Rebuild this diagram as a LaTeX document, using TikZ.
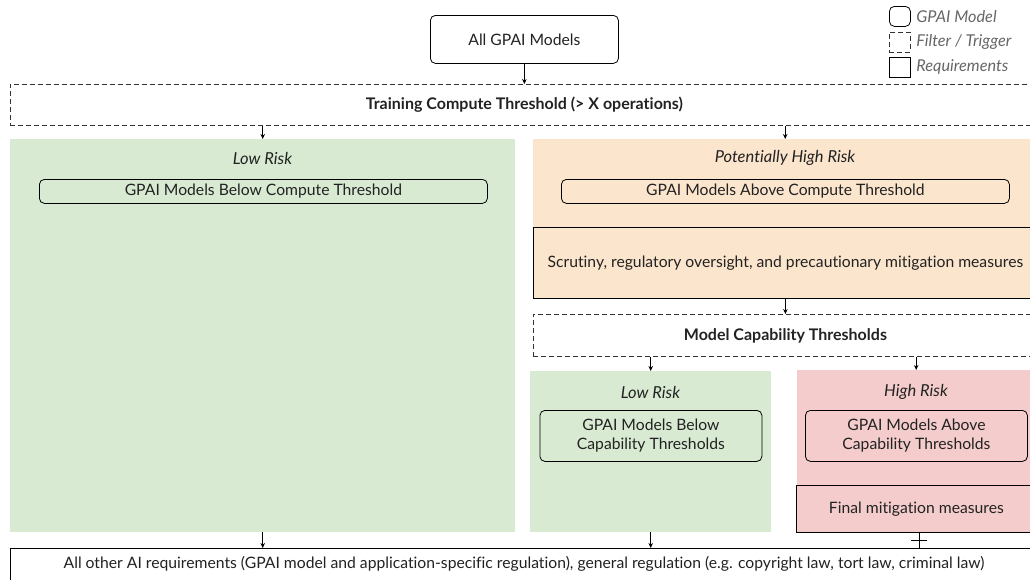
\documentclass[tikz,border=0pt]{standalone}
\usepackage{fontspec}
\setmainfont{Lato}[Ligatures={NoCommon}]
\usetikzlibrary{arrows.meta,calc}
\definecolor{lgreen}{HTML}{D9EAD3}
\definecolor{lorange}{HTML}{FCE5CD}
\definecolor{lred}{HTML}{F4CCCC}
\definecolor{txt}{HTML}{222222}
\definecolor{legtxt}{HTML}{666666}
\begin{document}
\begin{tikzpicture}[x=1pt,y=-1pt,
  font=\fontsize{15.7}{19}\selectfont, text=txt,
  region/.style={draw=none, inner sep=0pt, anchor=north west},
  modelbox/.style={draw=black, line width=0.8pt, rounded corners=5pt, inner sep=0pt, anchor=north west, align=center},
  reqbox/.style={draw=black, line width=0.8pt, inner sep=0pt, anchor=north west, align=center},
  filterbox/.style={draw=black!80, line width=0.8pt, dash pattern=on 5pt off 3pt, inner sep=0pt, anchor=north west, font=\fontsize{16}{19}\selectfont\bfseries},
  risklabel/.style={font=\fontsize{16.5}{19}\selectfont\itshape},
  legtext/.style={anchor=west, text=legtxt, font=\fontsize{16.3}{19}\selectfont\itshape},
  arr/.style={-{Stealth[length=5pt,width=4.5pt]}, line width=0.8pt}
]
\useasboundingbox (0,0) rectangle (1030,579);

% legend
\node[modelbox, minimum width=21pt, minimum height=20pt] (lg1) at (889,6) {};
\node[filterbox, minimum width=21pt, minimum height=20pt] (lg2) at (889,32) {};
\node[reqbox, minimum width=21pt, minimum height=20pt] (lg3) at (889,57) {};
\node[legtext] (lt1) at ([xshift=2pt]lg1.east) {GPAI Model};
\node[legtext] (lt2) at ([xshift=2pt]lg2.east) {Filter / Trigger};
\node[legtext] (lt3) at ([xshift=2pt]lg3.east) {Requirements};

% top
\node[modelbox, minimum width=188pt, minimum height=48pt] (all) at (430,15) {All GPAI Models};
\node[filterbox, minimum width=1028pt, minimum height=41pt] (train) at (10,84) {Training Compute Threshold (> X operations)};

% left green region
\node[region, fill=lgreen, minimum width=505pt, minimum height=393pt] (lowbg) at (10,139) {};
\node[risklabel] (lowlab) at (262.5,158) {Low Risk};
\node[modelbox, minimum width=448pt, minimum height=24pt] (below) at (39,179) {GPAI Models Below Compute Threshold};

% orange region
\node[region, fill=lorange, minimum width=504pt, minimum height=159pt] (orbg) at (533,139) {};
\node[risklabel] (phlab) at (785,158) {Potentially High Risk};
\node[modelbox, minimum width=448pt, minimum height=24pt] (above) at (561,179) {GPAI Models Above Compute Threshold};
\node[reqbox, fill=lorange, minimum width=504pt, minimum height=71pt] (scrut) at (533,227) {Scrutiny, regulatory oversight, and precautionary mitigation measures};

% capability filter
\node[filterbox, minimum width=504pt, minimum height=42pt] (mct) at (533,314) {Model Capability Thresholds};

% low risk (capability)
\node[region, fill=lgreen, minimum width=241pt, minimum height=161pt] (lowbg2) at (530,371) {};
\node[risklabel] (lowlab2) at (650.5,392) {Low Risk};
\node[modelbox, minimum width=222pt, minimum height=51pt] (belowcap) at (539.5,410) {GPAI Models Below\\Capability Thresholds};

% high risk
\node[region, fill=lred, minimum width=238pt, minimum height=162pt] (redbg) at (797,370) {};
\node[risklabel] (hilab) at (916,392) {High Risk};
\node[modelbox, minimum width=222pt, minimum height=51pt] (abovecap) at (805,410) {GPAI Models Above\\Capability Thresholds};
\node[reqbox, fill=lred, minimum width=240pt, minimum height=47pt] (final) at (796,485) {Final mitigation measures};

% bottom
\node[reqbox, minimum width=1028pt, minimum height=45pt] (bottom) at (10,548) {};
\node (bottomtext) at (524,564) {All other AI requirements (GPAI model and application-specific regulation), general regulation (e.g. copyright law, tort law, criminal law)};

% connectors
\draw[arr] (all.south) -- (train.north);
\draw[arr] (train.south -| lowbg.north) -- (lowbg.north);
\draw[arr] (train.south -| orbg.north) -- (orbg.north);
\draw[arr] (scrut.south) -- (mct.north);
\draw[arr] (mct.south -| lowbg2.north) -- (lowbg2.north);
\draw[arr] (mct.south -| redbg.north) -- (redbg.north);
\draw[arr] (lowbg.south) -- (lowbg.south |- bottom.north);
\draw[arr] (lowbg2.south) -- (lowbg2.south |- bottom.north);
\coordinate (pt) at ($(final.south)+(3,0)$);
\coordinate (pb) at (pt |- bottom.north);
\draw[line width=1.6pt] (pt) -- (pb);
\draw[line width=1.6pt] ($(pt)!0.5!(pb)+(-8,0)$) -- ($(pt)!0.5!(pb)+(8,0)$);
\end{tikzpicture}
\end{document}
